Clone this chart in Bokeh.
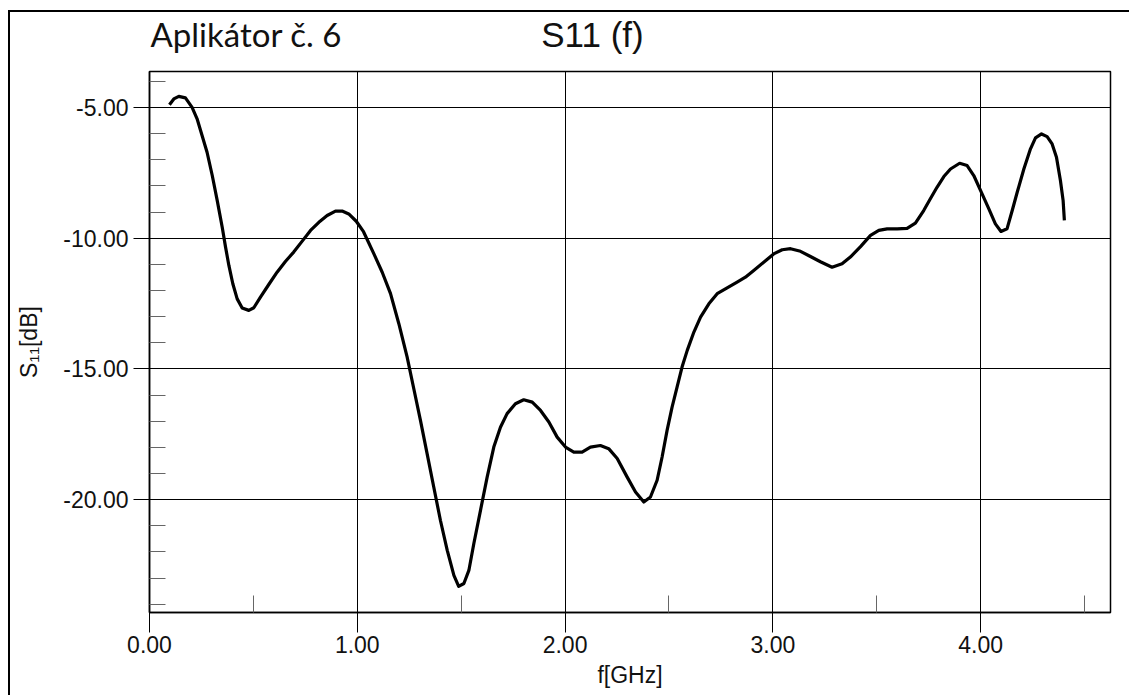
from bokeh.plotting import figure
from bokeh.models import Range1d, FixedTicker, NumeralTickFormatter
from bokeh.layouts import column
from bokeh.core.properties import value
from bokeh.embed import file_html
from bokeh.resources import INLINE

# ---- data ----
freq_ghz = [0.096, 0.117, 0.141, 0.173, 0.205, 0.229, 0.253, 0.277, 0.302, 0.326,
            0.350, 0.366, 0.382, 0.401, 0.422, 0.446, 0.478, 0.502, 0.534, 0.574,
            0.614, 0.654, 0.694, 0.735, 0.775, 0.815, 0.855, 0.895, 0.927, 0.959,
            0.995, 1.030, 1.080, 1.120, 1.160, 1.200, 1.240, 1.272, 1.304, 1.336,
            1.368, 1.400, 1.433, 1.465, 1.488, 1.513, 1.537, 1.561, 1.593, 1.625,
            1.657, 1.689, 1.721, 1.761, 1.801, 1.842, 1.882, 1.922, 1.962, 2.002,
            2.042, 2.082, 2.122, 2.170, 2.210, 2.251, 2.299, 2.339, 2.379, 2.411,
            2.443, 2.467, 2.491, 2.515, 2.539, 2.563, 2.588, 2.620, 2.652, 2.692,
            2.732, 2.780, 2.828, 2.868, 2.908, 2.956, 3.004, 3.045, 3.085, 3.133,
            3.181, 3.229, 3.285, 3.333, 3.373, 3.422, 3.470, 3.510, 3.550, 3.598,
            3.646, 3.686, 3.726, 3.758, 3.790, 3.823, 3.855, 3.899, 3.935, 3.967,
            4.007, 4.039, 4.071, 4.098, 4.127, 4.152, 4.176, 4.208, 4.240, 4.264,
            4.293, 4.320, 4.344, 4.365, 4.384, 4.397, 4.403]
s11_db = [-4.89, -4.67, -4.57, -4.63, -4.99, -5.43, -6.07, -6.71, -7.60, -8.56,
          -9.58, -10.34, -11.04, -11.74, -12.32, -12.67, -12.76, -12.66, -12.25, -11.77,
          -11.30, -10.89, -10.53, -10.11, -9.70, -9.39, -9.13, -8.96, -8.96, -9.07,
          -9.35, -9.75, -10.60, -11.30, -12.12, -13.27, -14.55, -15.76, -16.97, -18.24,
          -19.52, -20.79, -21.94, -22.90, -23.32, -23.21, -22.71, -21.68, -20.41, -19.14,
          -17.99, -17.23, -16.71, -16.33, -16.18, -16.27, -16.59, -17.03, -17.61, -17.99,
          -18.18, -18.18, -17.99, -17.93, -18.05, -18.43, -19.14, -19.71, -20.09, -19.90,
          -19.26, -18.37, -17.35, -16.46, -15.70, -14.93, -14.29, -13.59, -13.02, -12.51,
          -12.12, -11.90, -11.68, -11.49, -11.23, -10.92, -10.60, -10.44, -10.40, -10.50,
          -10.70, -10.90, -11.11, -10.98, -10.72, -10.32, -9.89, -9.70, -9.64, -9.64,
          -9.62, -9.42, -8.94, -8.49, -8.05, -7.64, -7.35, -7.13, -7.22, -7.60,
          -8.30, -8.87, -9.45, -9.74, -9.64, -8.94, -8.24, -7.35, -6.58, -6.16,
          -6.01, -6.11, -6.39, -6.90, -7.79, -8.56, -9.32]

x_major = [0, 1, 2, 3, 4]
x_minor = [0.5, 1.5, 2.5, 3.5, 4.5]
y_major = [-5, -10, -15, -20]
y_minor = [-4, -6, -7, -8, -9, -11, -12, -13, -14, -16, -17, -18, -19, -21, -22, -23, -24]

title_main = "S11 (f)"
title_left = "Aplikátor č. 6"
x_label = "f[GHz]"
y_label = "S\u2081\u2081[dB]"

W = 1119
HEAD_H = 54
X_RANGE = (0, 4.625)

# ---- header strip holding the two titles (its frame lines up with the chart's frame) ----
head = figure(width=W, height=HEAD_H, output_backend="svg", toolbar_location=None,
              x_range=Range1d(*X_RANGE), y_range=Range1d(0, HEAD_H),
              x_axis_type=None, y_axis_type=None, min_border=0)
head.outline_line_color = None
head.xgrid.visible = False
head.ygrid.visible = False
head.background_fill_color = "white"
head.border_fill_color = "white"
head.text(x=[0.005], y=[HEAD_H - 21], text=[title_left], text_font=value("Lato"),
          text_font_size="33px", text_color="#111111", text_align="left",
          text_baseline="middle")
head.text(x=[2.132], y=[HEAD_H - 22], text=[title_main], text_font=value("Liberation Sans"),
          text_font_size="35px", text_color="#111111", text_align="center",
          text_baseline="middle")

# ---- main chart ----
p = figure(width=W, height=683 - HEAD_H, output_backend="svg", toolbar_location=None,
           x_range=Range1d(*X_RANGE), y_range=Range1d(-24.32, -3.62),
           min_border_left=139, min_border_right=19, min_border_top=59 - HEAD_H,
           min_border_bottom=83)

p.outline_line_color = "black"
p.outline_line_width = 1.5
p.background_fill_color = "white"
p.border_fill_color = "white"

p.line(freq_ghz, s11_db, line_color="black", line_width=3.2, line_join="round")

for ax, maj, mino in ((p.xaxis[0], x_major, x_minor), (p.yaxis[0], y_major, y_minor)):
    ax.ticker = FixedTicker(ticks=maj, minor_ticks=mino)
    ax.formatter = NumeralTickFormatter(format="0.00")
    ax.axis_line_color = "black"
    ax.axis_line_width = 1.5
    ax.major_tick_line_color = "black"
    ax.major_tick_in = 0
    ax.minor_tick_line_color = "#666666"
    ax.minor_tick_out = 0
    ax.major_label_text_font = "Liberation Sans"
    ax.major_label_text_font_size = "23px"
    ax.major_label_text_color = "#111111"
    ax.axis_label_text_font = "Liberation Sans"
    ax.axis_label_text_font_size = "23px"
    ax.axis_label_text_font_style = "normal"
    ax.axis_label_text_color = "#111111"

p.xaxis.major_tick_out = 20
p.xaxis.minor_tick_in = 17
p.xaxis.major_label_standoff = 3
p.xaxis.axis_label = x_label
p.xaxis.axis_label_standoff = 6

p.yaxis.major_tick_out = 16
p.yaxis.minor_tick_in = 16
p.yaxis.major_label_standoff = 5
p.yaxis.axis_label = y_label
p.yaxis.axis_label_standoff = 18

for g in (p.xgrid[0], p.ygrid[0]):
    g.grid_line_color = "black"
    g.grid_line_width = 1
    g.grid_line_alpha = 1.0
p.xgrid.ticker = FixedTicker(ticks=x_major)
p.ygrid.ticker = FixedTicker(ticks=y_major)

layout = column(head, p, spacing=0)
layout.margin = (10, 0, 0, 8)
layout.styles = {"border-left": "2px solid black", "border-top": "2px solid black",
                 "background-color": "white"}

open("out.html", "w").write(file_html(layout, INLINE))
